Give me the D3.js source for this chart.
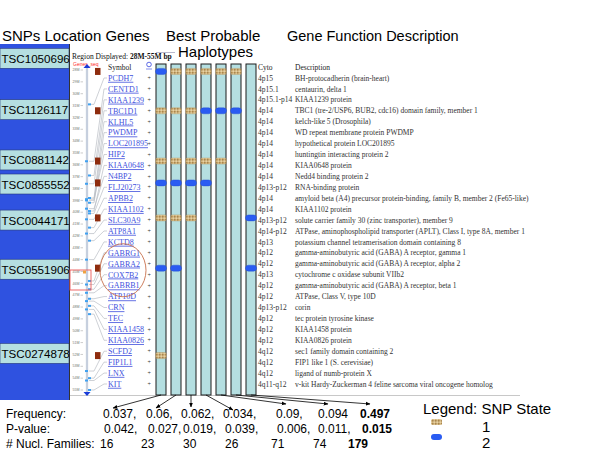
<!DOCTYPE html>
<html><head><meta charset="utf-8">
<script src="https://cdn.jsdelivr.net/npm/d3@7"></script>
<style>body{margin:0;background:#fff}svg{display:block}</style>
</head><body>
<svg id="c" width="600" height="450"></svg>
<script>
// ---------------- DATA ----------------
const snpNames = ["TSC1050696","TSC1126117","TSC0881142","TSC0855552","TSC0044171","TSC0551906","TSC0274878"];
const snpRows = [-0.6, 3.0, 7.6, 9.6, 12.8, 17.4, 25.4]; // SNP position in gene-row units
const labelRows = [-1.8, 2.9, 7.5, 9.7, 13.0, 17.5, 25.2]; // SNP label position in gene-row units
const genes = ["PCDH7","CENTD1","KIAA1239","TBC1D1","KLHL5","PWDMP","LOC201895","HIP2","KIAA0648","N4BP2","FLJ20273","APBB2","KIAA1102","SLC30A9","ATP8A1","KCTD8","GABRG1","GABRA2","COX7B2","GABRB1","ATP10D","CRN","TEC","KIAA1458","KIAA0826","SCFD2","FIP1L1","LNX","KIT"];
const cyto = ["4p15","4p15.1","4p15.1-p14","4p14","4p14","4p14","4p14","4p14","4p14","4p14","4p13-p12","4p14","4p14","4p13-p12","4p14-p12","4p13","4p12","4p12","4p13","4p12","4p12","4p13-p12","4p12","4p12","4p12","4q12","4q12","4q12","4q11-q12"];
const descriptions = [
 "BH-protocadherin (brain-heart)",
 "centaurin, delta 1",
 "KIAA1239 protein",
 "TBC1 (tre-2/USP6, BUB2, cdc16) domain family, member 1",
 "kelch-like 5 (Drosophila)",
 "WD repeat membrane protein PWDMP",
 "hypothetical protein LOC201895",
 "huntingtin interacting protein 2",
 "KIAA0648 protein",
 "Nedd4 binding protein 2",
 "RNA-binding protein",
 "amyloid beta (A4) precursor protein-binding, family B, member 2 (Fe65-like)",
 "KIAA1102 protein",
 "solute carrier family 30 (zinc transporter), member 9",
 "ATPase, aminophospholipid transporter (APLT), Class I, type 8A, member 1",
 "potassium channel tetramerisation domain containing 8",
 "gamma-aminobutyric acid (GABA) A receptor, gamma 1",
 "gamma-aminobutyric acid (GABA) A receptor, alpha 2",
 "cytochrome c oxidase subunit VIIb2",
 "gamma-aminobutyric acid (GABA) A receptor, beta 1",
 "ATPase, Class V, type 10D",
 "corin",
 "tec protein tyrosine kinase",
 "KIAA1458 protein",
 "KIAA0826 protein",
 "sec1 family domain containing 2",
 "FIP1 like 1 (S. cerevisiae)",
 "ligand of numb-protein X",
 "v-kit Hardy-Zuckerman 4 feline sarcoma viral oncogene homolog"];
const genePosMb = [30.9,35.7,36.9,37.6,38.8,39.0,39.2,38.9,39.9,39.7,40.1,40.6,41.3,41.8,42.4,44.0,45.8,46.1,46.5,46.8,47.3,47.5,47.9,48.2,48.6,53.4,54.0,54.2,55.0];
const trackTicks = [28,29,30,31,32,33,34,35,36,37,38,39,40,41,42,43,44,45,46,47,48,49,50,51,52,53,54,55];
// haplotype state per SNP (row) x haplotype (column): 1 = state 1, 2 = state 2, 0 = none
const haplotypeStates = [
 [2,1,1,1,1,1,0],
 [1,1,1,2,2,2,0],
 [1,1,1,1,1,0,0],
 [2,2,2,2,0,0,0],
 [1,1,1,0,0,0,2],
 [2,2,0,0,0,0,2],
 [1,0,0,0,0,0,0]];
const frequency = [0.037,0.06,0.062,0.034,0.09,0.094,0.497];
const pValue = [0.042,0.027,0.019,0.039,0.006,0.011,0.015];
const families = [16,23,30,26,71,74,179];
const freqSep = [",",",",",",",",",","",""];
const pSep = [",",",",",",",",",",",",""];
const legendStates = ["1","2"];

// ---------------- LAYOUT ----------------
const svg = d3.select("#c");
const sans = "'Liberation Sans', Arial, sans-serif";
const serif = "'Liberation Serif', 'Times New Roman', serif";
const rowY = d3.scaleLinear().domain([0, genes.length - 1]).range([78, 384]);
const trackY = d3.scaleLinear().domain([28, 55]).range([70, 390]);
const hapX = d3.scaleBand().domain(d3.range(frequency.length)).range([156, 256]).paddingInner(1/3).paddingOuter(0);

const defs = svg.append("defs");
const pat = defs.append("pattern").attr("id","tan").attr("width",3).attr("height",3).attr("patternUnits","userSpaceOnUse");
pat.append("rect").attr("width",3).attr("height",3).attr("fill","#d2b47e");
pat.append("rect").attr("width",1.5).attr("height",1.5).attr("fill","#a8864e");
pat.append("rect").attr("x",1.5).attr("y",1.5).attr("width",1.5).attr("height",1.5).attr("fill","#e6d2a4");
const mk = defs.append("marker").attr("id","arr").attr("viewBox","0 0 10 10").attr("refX",9).attr("refY",5)
  .attr("markerWidth",6).attr("markerHeight",6).attr("orient","auto");
mk.append("path").attr("d","M0,1L10,5L0,9Z").attr("fill","#000");

// Titles
const titles = svg.append("g").attr("font-family", sans).attr("fill","#000");
titles.append("text").attr("x",2).attr("y",41).attr("font-size",15).text("SNPs Location Genes");
titles.append("text").attr("x",166).attr("y",41).attr("font-size",15).text("Best Probable");
titles.append("text").attr("x",178).attr("y",57).attr("font-size",15).text("Haplotypes");
titles.append("text").attr("x",287).attr("y",41).attr("font-size",14.5).text("Gene Function Description");

// Left blue SNP panel
svg.append("rect").attr("x",0).attr("y",44).attr("width",69).attr("height",356).attr("fill","#2f52e0");
const lab = svg.append("g");
lab.selectAll("rect").data(snpNames).join("rect")
  .attr("x",0).attr("width",69)
  .attr("y",(d,i)=> rowY(labelRows[i]) - 10).attr("height",20)
  .attr("fill","#b5dfe1").attr("stroke","#23357a").attr("stroke-width",0.6);
lab.selectAll("text").data(snpNames).join("text")
  .attr("x",1.5).attr("y",(d,i)=> rowY(labelRows[i]) + 4.5)
  .attr("font-family",sans).attr("font-size",11.6).attr("fill","#000").text(d=>d);

// Gene browser panel
svg.append("line").attr("x1",69.5).attr("x2",69.5).attr("y1",44).attr("y2",400).attr("stroke","#333").attr("stroke-width",1);
svg.append("line").attr("x1",70).attr("x2",520).attr("y1",395.5).attr("y2",395.5).attr("stroke","#c8c8c8").attr("stroke-width",1);
const hdr = svg.append("text").attr("x",72).attr("y",58.5).attr("font-family",serif).attr("font-size",7.5).attr("fill","#111");
hdr.append("tspan").text("Region Displayed: ");
hdr.append("tspan").attr("font-weight","bold").text("28M-55M bp");
svg.append("line").attr("x1",156).attr("x2",175).attr("y1",52.5).attr("y2",52.5).attr("stroke","#88a").attr("stroke-width",0.6);
svg.append("text").attr("x",73).attr("y",65.5).attr("font-family",sans).attr("font-size",5).attr("fill","#ff2a2a").text("Genes_seq");

// track
const track = svg.append("g");
track.append("line").attr("x1",87).attr("x2",87).attr("y1",trackY(28)-2).attr("y2",trackY(55)+2).attr("stroke","#a9b6cc").attr("stroke-width",2.2);
track.append("line").attr("x1",87).attr("x2",87).attr("y1",trackY(28)-2).attr("y2",trackY(55)+2).attr("stroke","#f4f6fa").attr("stroke-width",0.8);
track.append("path").attr("d",`M83.5,${trackY(28)-2}L90.5,${trackY(28)-2}L87,${trackY(28)-6}Z`).attr("fill","#1a3cd8");
track.append("path").attr("d",`M83.5,${trackY(55)+2}L90.5,${trackY(55)+2}L87,${trackY(55)+6}Z`).attr("fill","#1a3cd8");
track.selectAll("text.tk").data(trackTicks).join("text").attr("class","tk")
  .attr("x",72.5).attr("y",d=>trackY(d)+1.2).attr("font-family",sans).attr("font-size",3.6).attr("fill","#777").text(d=>d+"M");
track.selectAll("line.tk").data(trackTicks).join("line").attr("class","tk")
  .attr("x1",80.5).attr("x2",83).attr("y1",d=>trackY(d)).attr("y2",d=>trackY(d)).attr("stroke","#999").attr("stroke-width",0.5);
// connectors
track.selectAll("path.con").data(genes).join("path").attr("class","con")
  .attr("d",(d,i)=>`M89,${trackY(genePosMb[i])}L94,${trackY(genePosMb[i])}L104,${rowY(i)}L107,${rowY(i)}`)
  .attr("fill","none").attr("stroke","#b9bdc4").attr("stroke-width",0.7);
track.selectAll("rect.gm").data(genes).join("rect").attr("class","gm")
  .attr("x",(d,i)=> i%2 ? 85 : 88).attr("y",(d,i)=>trackY(genePosMb[i])-1).attr("width",3).attr("height",2)
  .attr("fill","#3fa0f0");
// SNP brown squares
svg.selectAll("rect.snp").data(snpRows).join("rect").attr("class","snp")
  .attr("x",95).attr("y",d=>rowY(d)-3.5).attr("width",5.5).attr("height",7).attr("fill","#8e2c0e");

// column headers
const hfont = svg.append("g").attr("font-family",serif).attr("font-size",7.5).attr("fill","#222");
hfont.append("text").attr("x",108).attr("y",69.5).text("Symbol");
hfont.append("text").attr("x",258).attr("y",69.5).text("Cyto");
hfont.append("text").attr("x",295).attr("y",69.5).text("Description");
svg.append("circle").attr("cx",149).attr("cy",64.5).attr("r",2.3).attr("fill","none").attr("stroke","#3344dd").attr("stroke-width",0.8);
svg.append("line").attr("x1",146).attr("x2",152).attr("y1",69).attr("y2",69).attr("stroke","#3344dd").attr("stroke-width",0.6);

// gene rows
const gr = svg.append("g").attr("font-family",serif);
gr.selectAll("text.sym").data(genes).join("text").attr("class","sym")
  .attr("x",108).attr("y",(d,i)=>rowY(i)+2.8).attr("font-size",8).attr("fill","#4050dd")
  .attr("text-decoration","underline").text(d=>d);
gr.selectAll("text.plus").data(genes).join("text").attr("class","plus")
  .attr("x",147.5).attr("y",(d,i)=>rowY(i)+2.2).attr("font-size",6).attr("fill","#333").text("+");
gr.selectAll("text.cy").data(cyto).join("text").attr("class","cy")
  .attr("x",258).attr("y",(d,i)=>rowY(i)+2.6).attr("font-size",7.5).attr("fill","#333").text(d=>d);
gr.selectAll("text.ds").data(descriptions).join("text").attr("class","ds")
  .attr("x",295).attr("y",(d,i)=>rowY(i)+2.6).attr("font-size",7.5).attr("fill","#333").text(d=>d);

// annotations: orange ellipse + red box
svg.append("ellipse").attr("cx",123).attr("cy",(rowY(16)+rowY(19))/2+1).attr("rx",23).attr("ry",26.5)
  .attr("fill","none").attr("stroke","#c8704c").attr("stroke-width",0.9);
svg.append("rect").attr("x",70).attr("y",270).attr("width",21).attr("height",20)
  .attr("fill","none").attr("stroke","#ec5a5a").attr("stroke-width",0.9);
svg.append("rect").attr("x",83).attr("y",270.5).attr("width",3).attr("height",3).attr("fill","#f0a040");

// haplotype columns
const hc = svg.append("g");
hc.selectAll("rect").data(frequency).join("rect")
  .attr("x",(d,i)=>hapX(i)).attr("y",64).attr("width",hapX.bandwidth()).attr("height",331)
  .attr("fill","#b5dfe1").attr("stroke","#1c1c1c").attr("stroke-width",1);
const cells = [];
haplotypeStates.forEach((row,s)=>row.forEach((st,j)=>{ if (st) cells.push({s,j,st}); }));
hc.selectAll("rect.m").data(cells).join("rect").attr("class","m")
  .attr("x",d=>hapX(d.j) - (d.st===2 ? 0.5 : 0.3)).attr("y",d=>rowY(snpRows[d.s]) - 3)
  .attr("width",d=>hapX.bandwidth() + (d.st===2 ? 1 : 0.6)).attr("height",6)
  .attr("rx",d=>d.st===2 ? 3 : 1.5)
  .attr("fill",d=>d.st===2 ? "#2a5cf2" : "url(#tan)")
  .attr("stroke",d=>d.st===2 ? "#1f4ad0" : "#b0925c").attr("stroke-width",0.4);

// bottom stats
const freqX = [103,146,181,223,276,318,360];
const pX = [104,148,183,225,277,318,362];
const famX = [100,141,183,225,271,313,348];
const tipY = [408,408,407,410,404,404,404];
svg.append("g").selectAll("line").data(frequency).join("line")
  .attr("x1",(d,i)=>hapX(i)+hapX.bandwidth()/2).attr("y1",395)
  .attr("x2",(d,i)=>freqX[i]+10).attr("y2",(d,i)=>tipY[i])
  .attr("stroke","#000").attr("stroke-width",0.8).attr("marker-end","url(#arr)");

const st = svg.append("g").attr("font-family",sans).attr("font-size",12).attr("fill","#000");
st.append("text").attr("x",6).attr("y",418).text("Frequency:");
st.append("text").attr("x",6).attr("y",433).text("P-value:");
st.append("text").attr("x",6).attr("y",448).text("# Nucl. Families:");
const last = frequency.length - 1;
st.selectAll("text.f").data(frequency).join("text").attr("class","f")
  .attr("x",(d,i)=>freqX[i]).attr("y",418).attr("font-weight",(d,i)=>i===last?"bold":"normal").text((d,i)=>d+freqSep[i]);
st.selectAll("text.p").data(pValue).join("text").attr("class","p")
  .attr("x",(d,i)=>pX[i]).attr("y",433).attr("font-weight",(d,i)=>i===last?"bold":"normal").text((d,i)=>d.toFixed(3)+pSep[i]);
st.selectAll("text.n").data(families).join("text").attr("class","n")
  .attr("x",(d,i)=>famX[i]).attr("y",448).attr("font-weight",(d,i)=>i===last?"bold":"normal").text(d=>d);

// legend
const lg = svg.append("g").attr("font-family",sans).attr("fill","#000");
lg.append("text").attr("x",423).attr("y",414).attr("font-size",15).text("Legend: SNP State");
lg.selectAll("rect").data(legendStates).join("rect")
  .attr("x",431).attr("y",(d,i)=>419 + i*15).attr("width",11).attr("height",6).attr("rx",(d,i)=>i?3:1.5)
  .attr("fill",(d,i)=>i ? "#2a5cf2" : "url(#tan)");
lg.selectAll("text.l").data(legendStates).join("text").attr("class","l")
  .attr("x",482).attr("y",(d,i)=>432 + i*16).attr("font-size",15).text(d=>d);
</script>
</body></html>
